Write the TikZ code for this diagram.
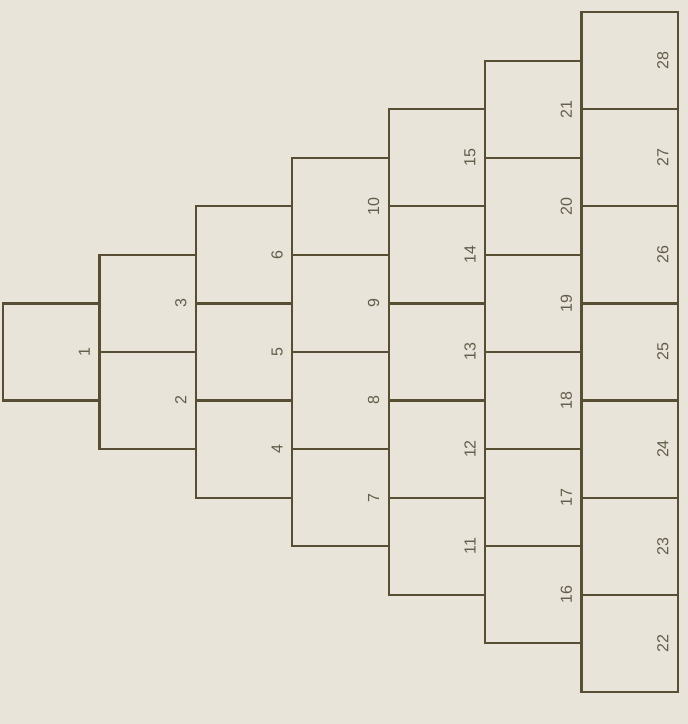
\documentclass[tikz,border=0pt]{standalone}
\usepackage{fontspec}
\setmainfont{Liberation Sans}
\definecolor{paper}{RGB}{232,228,217}
\definecolor{ink}{RGB}{88,78,52}
\definecolor{digit}{RGB}{100,92,74}
\begin{document}
\begin{tikzpicture}[x=1pt,y=1pt,
  cell/.style={draw=ink, line width=2.2pt, minimum width=96.4pt, minimum height=97.1pt, inner sep=0pt, outer sep=0pt},
  num/.style={rotate=90, font=\fontsize{16}{16}\selectfont, text=digit, inner sep=0pt}
]
  \fill[paper] (0,0) rectangle (688,724);
  \useasboundingbox (0,0) rectangle (688,724);
  % columns of cells, numbered bottom to top
  \foreach \c in {1,...,7}{
    \foreach \r in {1,...,\c}{
      \pgfmathtruncatemacro{\n}{\c*(\c-1)/2+\r}
      \node[cell] (box\n) at ({3+(\c-0.5)*96.4}, {724-(352+(\c-1)*48.55-(\r-1)*97.1)}) {};
      \node[num] (num\n) at ([xshift=-15pt]box\n.east) {\n};
    }
  }
\end{tikzpicture}
\end{document}
